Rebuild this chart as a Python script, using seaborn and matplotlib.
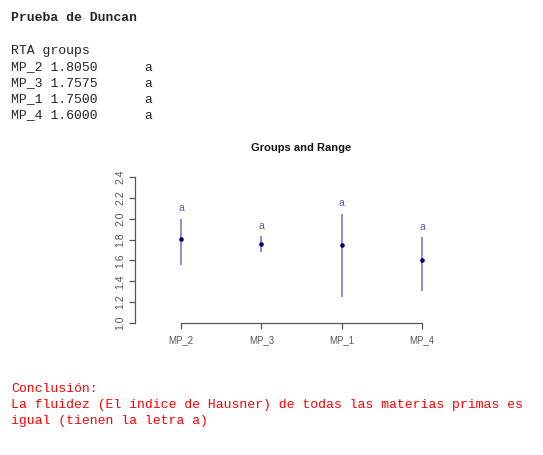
import matplotlib
matplotlib.use('Agg')
import matplotlib.pyplot as plt
import seaborn as sns
import pandas as pd
import numpy as np

# Duncan test results
groups = ['MP_2', 'MP_3', 'MP_1', 'MP_4']
means = [1.8050, 1.7575, 1.7500, 1.6000]
letters = ['a', 'a', 'a', 'a']
range_min = [1.56, 1.68, 1.25, 1.31]
range_max = [2.00, 1.83, 2.05, 1.82]
y_ticks = [1.0, 1.2, 1.4, 1.6, 1.8, 2.0, 2.2, 2.4]

sns.set_style('white')
plt.rcParams['font.family'] = ['Liberation Sans', 'DejaVu Sans']

W, H = 543, 455
fig = plt.figure(figsize=(W / 100, H / 100), dpi=100)
fig.patch.set_facecolor('white')

mono = ['Liberation Mono', 'DejaVu Sans Mono']
fs = 9.45

def px(x, y):
    return x / W, 1 - y / H

# header text block
fig.text(*px(11, 18), 'Prueba de Duncan', family=mono, fontsize=fs,
         fontweight='bold', va='center', ha='left')
table_lines = ['RTA groups'] + [f'{g} {m:.4f}      {l}' for g, m, l in zip(groups, means, letters)]
for i, line in enumerate(table_lines):
    fig.text(*px(11, 51 + 16 * i), line, family=mono, fontsize=fs,
             va='center', ha='left')

# conclusion text block
concl = ['Conclusión:',
         'La fluidez (El índice de Hausner) de todas las materias primas es',
         'igual (tienen la letra a)']
for i, line in enumerate(concl):
    fig.text(*px(11, 389 + 16 * i), line, family=mono, fontsize=fs,
             color='#ff0000', va='center', ha='left')

# chart
left, right = 135, 470
top, bottom = 177, 323
ax = fig.add_axes([left / W, 1 - bottom / H, (right - left) / W, (bottom - top) / H])
ax.set_facecolor('white')

pos = np.arange(len(groups))
df = pd.DataFrame({'x': pos, 'mean': means, 'lo': range_min, 'hi': range_max})

ax.vlines(df['x'], df['lo'], df['hi'], color='#7a7ac6', lw=1.2)
sns.scatterplot(data=df, x='x', y='mean', ax=ax, color='#00007a', s=11,
                edgecolor='#00007a', linewidth=0, zorder=3, legend=False)
for x, h, l in zip(pos, range_max, letters):
    ax.text(x, h + 0.1, l, ha='center', va='center', fontsize=7.5,
            color='#5c5cb4', clip_on=False)

ax.set_xlim(-46 / 80.3, 3 + 48 / 80.3)
ax.set_ylim(1.0, 2.4)
ax.set_xticks(pos)
ax.set_xticklabels(groups)
ax.set_yticks(y_ticks)
ax.set_yticklabels([f'{t:.1f}' for t in y_ticks], rotation=90, va='center')
ax.set_xlabel('')
ax.set_ylabel('')

for s in ['top', 'right']:
    ax.spines[s].set_visible(False)
for s in ['left', 'bottom']:
    ax.spines[s].set_color('#555555')
    ax.spines[s].set_linewidth(0.9)
ax.spines['left'].set_bounds(1.0, 2.4)
ax.spines['bottom'].set_bounds(0, 3)
ax.tick_params(axis='both', bottom=True, left=True, direction='out',
               length=4, width=0.9, color='#555555',
               labelcolor='#555555', labelsize=7, pad=3)
ax.tick_params(axis='x', pad=5)
ax.tick_params(axis='y', labelsize=7.5)

fig.text(*px(301, 148), 'Groups and Range', ha='center', va='center',
         fontsize=8, fontweight='bold', color='#111111')

fig.savefig('out.png', dpi=100, facecolor='white')
